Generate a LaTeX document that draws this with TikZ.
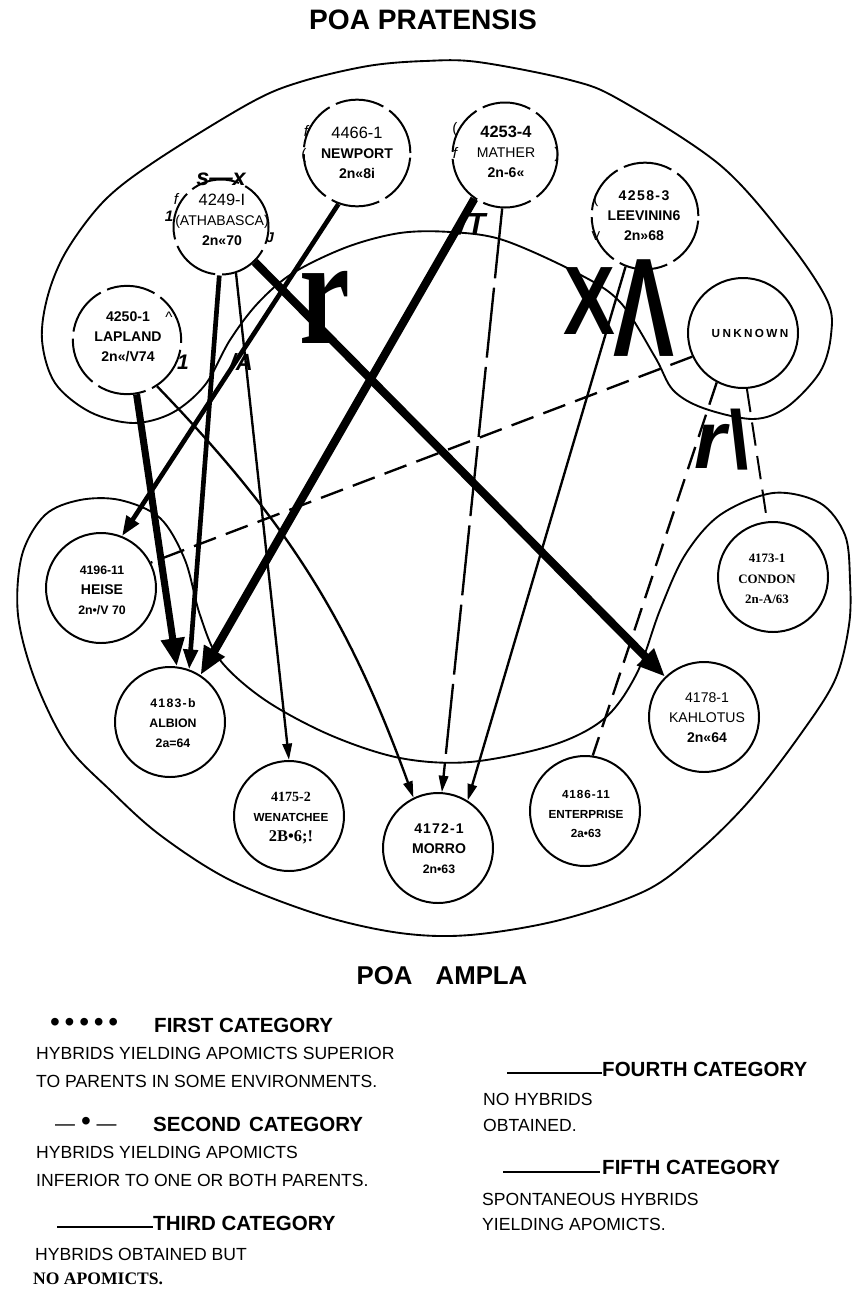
\documentclass[tikz,border=0pt]{standalone}
\usepackage{fontspec}
\setmainfont{Liberation Serif}
\setsansfont{Liberation Sans}
\usepackage{graphicx}
\usetikzlibrary{arrows.meta}
\newcommand\fsA{\fontsize{14}{17}\selectfont}
\newcommand\fsB{\fontsize{12}{17}\selectfont}
\newcommand\fsC{\fontsize{10.5}{17}\selectfont}

\begin{document}
\begin{tikzpicture}[x=0.03cm, y=-0.03cm,
  st/.style={draw, circle, fill=white, line width=1.7pt, minimum size=3.3cm, inner sep=0pt},
  stb/.style={st, dash pattern=on 42pt off 6pt},
  tx/.style={align=center, inner sep=0pt, font=\sffamily\fsB},
  gl/.style={inner sep=0pt, font=\sffamily\bfseries\itshape\fontsize{#1}{#1}\selectfont},
  gl/.default=14,
  bit/.style={inner sep=0pt, font=\sffamily\fontsize{13}{13}\selectfont},
  blob/.style={draw, line width=1.6pt},
  big/.style={line width=7pt, -{Triangle[length=24pt,width=19pt]}},
  mid/.style={line width=4pt, -{Triangle[length=17pt,width=12pt]}},
  fine/.style={line width=2pt, -{Triangle[length=14pt,width=8pt]}},
  nohyb/.style={line width=2pt, dash pattern=on 20pt off 9pt},
  hd/.style={anchor=west, inner sep=0pt, font=\sffamily\bfseries\fontsize{17.5}{20}\selectfont},
  lg/.style={anchor=west, inner sep=0pt, font=\sffamily\fontsize{15}{18}\selectfont}]
\useasboundingbox (0,0) rectangle (853,1289);

\draw[blob] plot[smooth cycle, tension=0.55] coordinates {
  (133,423) (90,412) (55,383) (42,340) (48,295) (67,250) (105,200) (157,160)
  (250,103) (300,82) (368,66) (425,61) (478,62) (570,80) (620,100) (720,165)
  (787,240) (827,300) (831,335) (820,372) (787,407) (753,419) (703,408)
  (673,390) (655,357) (620,302) (577,273) (503,240) (450,232) (400,233)
  (347,247) (293,273) (258,303) (230,340) (205,385) (172,413)};
\draw[blob] plot[smooth cycle, tension=0.55] coordinates {
  (773,493) (820,503) (845,535) (850,580) (849,625) (835,680) (800,735)
  (750,800) (700,850) (647,890) (560,920) (470,935) (400,933) (320,915)
  (230,880) (160,835) (110,790) (67,745) (35,680) (18,615) (22,555) (45,515)
  (80,500) (120,500) (160,518) (185,560) (200,615) (220,660) (265,700)
  (330,735) (400,758) (470,762) (553,745) (605,718) (637,673) (660,610)
  (685,555) (720,515)};

\node[stb, minimum size=2.85cm] (ath) at (221,227) {};
\node[stb, minimum size=3.2cm] (new) at (357,153) {};
\node[stb, minimum size=3.15cm] (mat) at (505,155) {};
\node[stb, minimum size=3.2cm] (lee) at (645,216) {};
\node[st] (unk) at (743,333) {};
\node[stb, minimum size=3.25cm] (lap) at (127,340) {};
\node[st] (hei) at (101,588) {};
\node[st] (alb) at (170,722) {};
\node[st] (wen) at (289,816) {};
\node[st] (mor) at (438,848) {};
\node[st] (ent) at (585,811) {};
\node[st] (kah) at (704,717) {};
\node[st] (con) at (773,577) {};

\node[tx] (athT) at (222,220) {{\fsA 4249-I}\\(ATHABASCA)\\\textbf{2n«70}};
\node[tx] (newT) at (357,153) {{\fsA 4466-1}\\\textbf{NEWPORT}\\\textbf{2n«8i}};
\node[tx, font=\sffamily\bfseries\fsB] (matT) at (506,152) {{\fsA 4253-4}\\{\mdseries MATHER}\\2n-6«};
\node[tx, font=\sffamily\bfseries\fsB] (leeT) at (644,216) {\addfontfeature{LetterSpace=10}4258-3\\LEEVININ6\\2n»68};
\node[tx, font=\sffamily\bfseries\fontsize{10}{17}\selectfont] (unkT) at (750,333) {\addfontfeature{LetterSpace=20}UNKNOWN};
\node[tx, font=\sffamily\bfseries\fsB] (lapT) at (128,337) {4250-1\\LAPLAND\\2n«/V74};
\node[tx, font=\sffamily\bfseries\fsC] (heiT) at (102,590) {4196-11\\{\fsB HEISE}\\2n•/V 70};
\node[tx, font=\sffamily\bfseries\fsC] (albT) at (173,723) {\addfontfeature{LetterSpace=10}4183-b\\ALBION\\2a=64};
\node[tx] (wenT) at (291,818) {{\rmfamily\bfseries 4175-2}\\{\bfseries\fontsize{10}{17}\selectfont WENATCHEE}\\{\rmfamily\bfseries\fsA 2B•6;!}};
\node[tx, font=\sffamily\bfseries\fsB] (morT) at (439,849) {\addfontfeature{LetterSpace=8}4172-1\\MORRO\\{\fsC 2n•63}};
\node[tx, font=\sffamily\bfseries\fontsize{10}{17}\selectfont] (entT) at (586,814) {\addfontfeature{LetterSpace=8}4186-11\\ENTERPRISE\\2a•63};
\node[tx] (kahT) at (707,718) {4178-1\\KAHLOTUS\\\textbf{2n«64}};
\node[tx, font=\rmfamily\bfseries\fontsize{11}{17.5}\selectfont] (conT) at (767,579) {4173-1\\CONDON\\2n-A/63};

\draw[big] (ath.-46) -- (kah.134);
\draw[big] (mat.-125) -- (alb.57);
\draw[big, line width=6pt] (lap.-80) -- (alb.83);
\draw[mid] (ath.-92) -- (alb.70);
\draw[mid] (new.-110) -- (hei.68);
\draw[fine] (ath.-72) -- (wen.90);
\draw[fine] (lap.-57) to[bend left=12] (mor.116);
\draw[fine, dash pattern=on 60pt off 8pt] (mat.-93) -- (mor.86);
\draw[fine] (lee.-111) -- (mor.58);
\draw[nohyb] (unk.205) -- (hei.27);
\draw[nohyb] (unk.-118) -- (ent.82);
\draw[nohyb, line width=1.7pt] (unk.-86) -- (con.96);

\node[gl=20] (sx) at (221,179) {s—x};
\node[bit, font=\sffamily\itshape\fontsize{13}{13}\selectfont] (athf) at (176,199) {f};
\node[gl=13] (ath1) at (169,216) {1};
\node[gl=12] (athj) at (270,238) {J};
\node[bit, font=\sffamily\itshape\fontsize{13}{13}\selectfont] (newf) at (306,131) {f};
\node[bit] (newp) at (304,156) {(};
\node[bit] (matp) at (455,130) {(};
\node[bit, font=\sffamily\itshape\fontsize{13}{13}\selectfont] (matf) at (455,153) {f};
\node[bit] (matq) at (557,155) {)};
\node[bit] (leep) at (596,200) {(};
\node[bit, font=\sffamily\fontsize{11}{11}\selectfont] (leev) at (596,236) {V};
\node[bit] (lapc) at (169,317) {\textasciicircum};
\node[gl=18] (lap1) at (183,362) {1};
\node[gl=20] (lapa) at (241,362) {/A};
\node[gl=26] (matt) at (472,224) {/T};
\node[inner sep=0pt, font=\rmfamily\bfseries\fontsize{130}{130}\selectfont] (bigr) at (325,307) {\scalebox{0.75}[1]{r}};
\node[inner sep=0pt, font=\sffamily\bfseries\fontsize{120}{120}\selectfont] (bigxl) at (619,308) {\raisebox{19pt}{\scalebox{0.8}[1]{\fontsize{83}{83}\selectfont X}}\kern-2pt\scalebox{0.65}[1]{Λ}};
\node[gl=70] (unkr) at (722,440) {r\textbackslash};

\node[inner sep=0pt, font=\sffamily\bfseries\fontsize{24}{24}\selectfont] (ttop) at (423,20) {POA PRATENSIS};
\node[inner sep=0pt, font=\sffamily\bfseries\fontsize{22}{22}\selectfont] (tbot) at (442,976) {POA\hspace{0.9em}AMPLA};

\node[lg, font=\sffamily\fontsize{24}{24}\selectfont] (dots) at (50,1025) {•\hspace{4pt}•\hspace{4pt}•\hspace{4pt}•\hspace{4pt}•};
\node[hd] (first) at (154,1025) {FIRST CATEGORY};
\node[lg] (f1) at (36,1053) {HYBRIDS YIELDING APOMICTS SUPERIOR};
\node[lg] (f2) at (36,1081) {TO PARENTS IN SOME ENVIRONMENTS.};
\node[lg, font=\sffamily\fontsize{17}{17}\selectfont] (dashdot) at (55,1124) {—\hspace{5pt}{\fontsize{24}{24}\selectfont•}\hspace{5pt}—};
\node[hd] (second) at (153,1124) {SECOND\hspace{0.4em}CATEGORY};
\node[lg] (s1) at (36,1152) {HYBRIDS YIELDING APOMICTS};
\node[lg] (s2) at (36,1180) {INFERIOR TO ONE OR BOTH PARENTS.};
\coordinate (l3a) at (57,1227);
\coordinate (l3b) at (153,1227);
\draw[line width=2.5pt] (l3a) -- (l3b);
\node[hd] (third) at (153,1223) {THIRD CATEGORY};
\node[lg] (t1) at (35,1254) {HYBRIDS OBTAINED BUT};
\node[lg, font=\rmfamily\bfseries\fontsize{15}{18}\selectfont] (t2) at (33,1279) {NO APOMICTS.};
\coordinate (l4a) at (507,1073);
\coordinate (l4b) at (602,1073);
\draw[line width=2.5pt] (l4a) -- (l4b);
\node[hd] (fourth) at (602,1069) {FOURTH CATEGORY};
\node[lg] (o1) at (483,1099) {NO HYBRIDS};
\node[lg] (o2) at (483,1125) {OBTAINED.};
\coordinate (l5a) at (503,1172);
\coordinate (l5b) at (600,1172);
\draw[line width=2.5pt] (l5a) -- (l5b);
\node[hd] (fifth) at (602,1167) {FIFTH CATEGORY};
\node[lg] (v1) at (482,1199) {SPONTANEOUS HYBRIDS};
\node[lg] (v2) at (482,1224) {YIELDING APOMICTS.};
\end{tikzpicture}
\end{document}
